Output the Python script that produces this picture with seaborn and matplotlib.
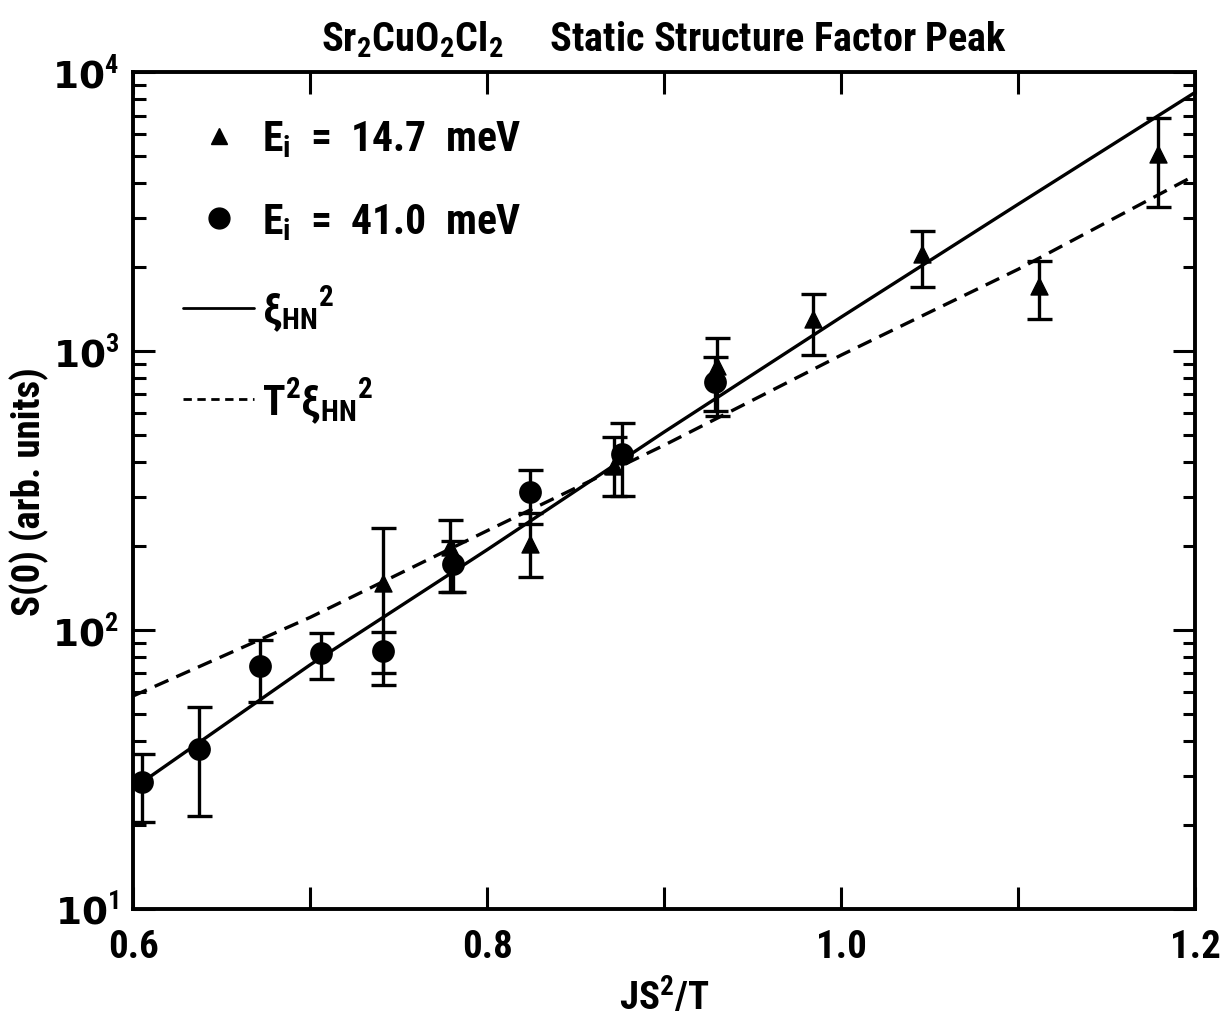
import numpy as np
import pandas as pd
import seaborn as sns
import matplotlib.pyplot as plt
from matplotlib import font_manager
from matplotlib.lines import Line2D
from matplotlib.ticker import FixedLocator, LogLocator, NullFormatter

# E_i = 41.0 meV (circles)
x_41 = [0.605, 0.637, 0.672, 0.706, 0.741, 0.781, 0.824, 0.876, 0.929]
y_41 = [28.5, 37.5, 74, 83, 84, 172, 312, 428, 774]
lo_41 = [20.5, 21.5, 55, 66.7, 63.5, 137, 240, 302, 610]
hi_41 = [36, 53, 92, 97.5, 98, 208, 374, 552, 950]

# E_i = 14.7 meV (triangles)
x_147 = [0.741, 0.779, 0.824, 0.872, 0.930, 0.984, 1.046, 1.112, 1.179]
y_147 = [148, 198, 203, 387, 883, 1303, 2230, 1710, 5080]
lo_147 = [70, 137, 155, 302, 585, 968, 1695, 1305, 3280]
hi_147 = [232, 248, 262, 492, 1115, 1600, 2690, 2100, 6840]

# curves
x_fit = [0.6, 0.7, 0.8, 0.9, 1.0, 1.1, 1.2]
y_xi2 = [27, 75, 194, 513, 1325, 3365, 8480]
y_t2xi2 = [58, 111, 227, 460, 968, 1967, 4275]

sns.set_theme(style="ticks")
names = {f.name for f in font_manager.fontManager.ttflist}
narrow = "DejaVu Sans"
for cand in ["Liberation Sans Narrow", "Roboto Condensed", "Roboto"]:
    if cand in names:
        narrow = cand
        break
plt.rcParams["font.family"] = [narrow, "DejaVu Sans"]
plt.rcParams["font.weight"] = "bold"
plt.rcParams["mathtext.fontset"] = "custom"
plt.rcParams["mathtext.rm"] = narrow + ":bold"
plt.rcParams["mathtext.it"] = narrow + ":bold"
plt.rcParams["mathtext.bf"] = narrow + ":bold"
for k in ["text.color", "axes.labelcolor", "xtick.color", "ytick.color", "axes.edgecolor"]:
    plt.rcParams[k] = "black"

fig = plt.figure(figsize=(12.32, 10.2), dpi=100)
ax = fig.add_axes([0.108, 0.108, 0.862, 0.820])

fits = pd.DataFrame({"x": x_fit + x_fit,
                     "y": y_xi2 + y_t2xi2,
                     "curve": ["xi"] * len(x_fit) + ["t2xi"] * len(x_fit)})
sns.lineplot(data=fits, x="x", y="y", style="curve", color="black",
             dashes={"xi": "", "t2xi": (4.5, 2.6)}, linewidth=2.4,
             legend=False, ax=ax)

ekw = dict(fmt="none", ecolor="black", elinewidth=2.4, capsize=9, capthick=2.4)
ax.errorbar(x_41, y_41, yerr=[np.subtract(y_41, lo_41), np.subtract(hi_41, y_41)], **ekw)
ax.errorbar(x_147, y_147, yerr=[np.subtract(y_147, lo_147), np.subtract(hi_147, y_147)], **ekw)
sns.scatterplot(x=x_41, y=y_41, marker="o", s=230, color="black", edgecolor="black", ax=ax, zorder=5)
sns.scatterplot(x=x_147, y=y_147, marker="^", s=150, color="black", edgecolor="black", ax=ax, zorder=5)

ax.set_yscale("log")
ax.set_xlim(0.6, 1.2)
ax.set_ylim(10, 1e4)

ax.xaxis.set_major_locator(FixedLocator([0.6, 0.7, 0.8, 0.9, 1.0, 1.1, 1.2]))
ax.set_xticklabels(["0.6", "", "0.8", "", "1.0", "", "1.2"])
ax.yaxis.set_minor_locator(LogLocator(base=10, subs=np.arange(2, 10), numticks=20))
ax.yaxis.set_minor_formatter(NullFormatter())
ax.set_yticks([10, 100, 1000, 10000])
ax.set_yticklabels([r"10$^{1}$", r"10$^{2}$", r"10$^{3}$", r"10$^{4}$"], family="DejaVu Sans")
ax.tick_params(axis="x", which="major", direction="in", length=16, width=2.2,
               top=True, labelsize=28, pad=14)
ax.tick_params(axis="y", which="major", direction="in", length=16, width=2.2,
               right=True, labelsize=27, pad=10)
ax.tick_params(axis="y", which="minor", direction="in", length=9, width=2.2, right=True, left=True)
for lab in ax.get_yticklabels() + ax.get_xticklabels():
    lab.set_fontweight("bold")
for s in ax.spines.values():
    s.set_linewidth(2.8)
    s.set_color("black")

ax.set_xlabel(r"JS$^2$/T", fontsize=28, fontweight="bold", labelpad=8)
ax.set_ylabel("S(0) (arb. units)", fontsize=28, fontweight="bold", labelpad=2)
ax.set_title(r"Sr$_2$CuO$_2$Cl$_2$     Static Structure Factor Peak",
             fontsize=29, fontweight="bold", pad=16)

handles = [
    Line2D([], [], color="black", marker="^", markersize=11, linestyle="none"),
    Line2D([], [], color="black", marker="o", markersize=15, linestyle="none"),
    Line2D([], [], color="black", linewidth=2, linestyle="-"),
    Line2D([], [], color="black", linewidth=2, linestyle=(0, (3, 2))),
]
labels = [r"E$_\mathrm{i}$  =  14.7  meV", r"E$_\mathrm{i}$  =  41.0  meV",
          r"$\xi_{HN}$$^2$", r"T$^2$$\xi_{HN}$$^2$"]
leg = ax.legend(handles, labels, loc="upper left", bbox_to_anchor=(0.012, 0.99),
                frameon=False, fontsize=30, handlelength=1.7, handletextpad=0.2,
                labelspacing=1.0)

fig.savefig("out.png", dpi=100)
